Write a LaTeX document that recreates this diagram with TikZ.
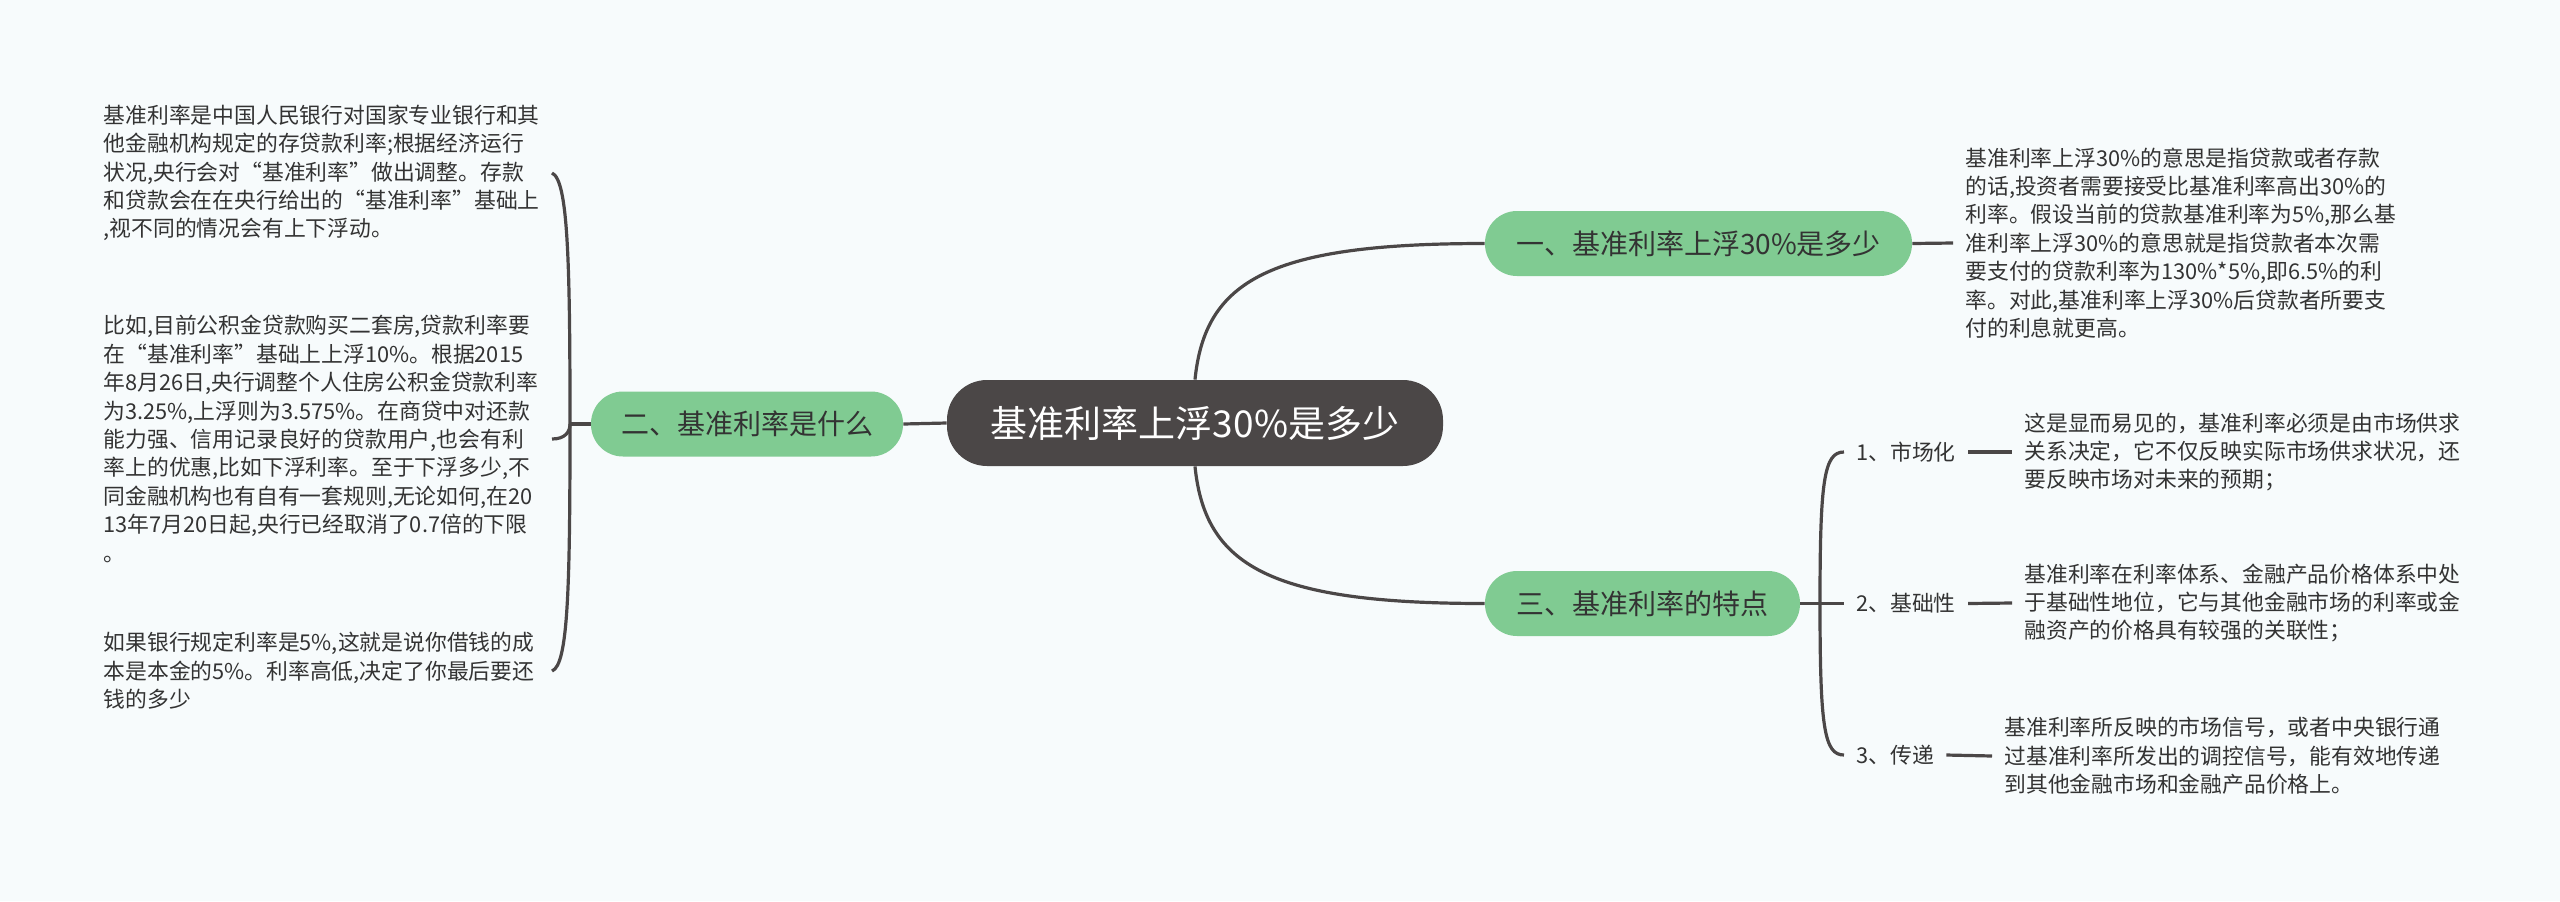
\documentclass[tikz,border=0pt]{standalone}
\usepackage{fontspec}
\setmainfont{Noto Sans CJK SC}
\definecolor{bg}{HTML}{F7FBFC}
\definecolor{gr}{HTML}{80CB92}
\definecolor{rootc}{HTML}{4B4747}
\definecolor{linec}{HTML}{4B4747}
\definecolor{txt}{HTML}{333333}
\begin{document}
\begin{tikzpicture}[x=0.5pt,y=-0.5pt,
 conn/.style={draw=linec,line width=1.6pt},
 rootbox/.style={fill=rootc,text=white,rounded corners=20pt,minimum width=248pt,minimum height=43pt,font=\fontsize{18.5pt}{22pt}\selectfont,inner sep=0pt},
 topic/.style={fill=gr,text=txt,rounded corners=16pt,minimum height=32.5pt,font=\fontsize{14pt}{17pt}\selectfont,inner sep=0pt},
 bodyl/.style={text=txt,align=left,text width=218pt,font=\fontsize{10.9pt}{14.2pt}\selectfont,inner xsep=6pt,inner ysep=0pt,anchor=east},
 bodyr/.style={text=txt,align=left,font=\fontsize{10.9pt}{14.2pt}\selectfont,inner xsep=6pt,inner ysep=0pt,anchor=west},
 sublab/.style={text=txt,font=\fontsize{10.9pt}{14pt}\selectfont,inner xsep=6pt,inner ysep=0pt,anchor=west}]

\fill[bg] (0,0) rectangle (2560,901);
\useasboundingbox (0,0) rectangle (2560,901);

% main nodes
\node[rootbox] (root) at (1195,423) {基准利率上浮30\%是多少};
\node[topic,minimum width=213.5pt] (n1) at (1698.5,243.5) {一、基准利率上浮30\%是多少};
\node[topic,minimum width=156pt] (n2) at (747,424) {二、基准利率是什么};
\node[topic,minimum width=157.5pt] (n3) at (1642.5,603.5) {三、基准利率的特点};

% left texts
\node[bodyl] (t1) at (552,173) {基准利率是中国人民银行对国家专业银行和其\\他金融机构规定的存贷款利率;根据经济运行\\状况,央行会对“基准利率”做出调整。存款\\和贷款会在在央行给出的“基准利率”基础上\\,视不同的情况会有上下浮动。};
\node[bodyl] (t2) at (552,439) {比如,目前公积金贷款购买二套房,贷款利率要\\在“基准利率”基础上上浮10\%。根据2015\\年8月26日,央行调整个人住房公积金贷款利率\\为3.25\%,上浮则为3.575\%。在商贷中对还款\\能力强、信用记录良好的贷款用户,也会有利\\率上的优惠,比如下浮利率。至于下浮多少,不\\同金融机构也有自有一套规则,无论如何,在20\\13年7月20日起,央行已经取消了0.7倍的下限\\。};
\node[bodyl] (t3) at (552,671) {如果银行规定利率是5\%,这就是说你借钱的成\\本是本金的5\%。利率高低,决定了你最后要还\\钱的多少};

% right texts
\node[bodyr] (r1) at (1953,243) {基准利率上浮30\%的意思是指贷款或者存款\\的话,投资者需要接受比基准利率高出30\%的\\利率。假设当前的贷款基准利率为5\%,那么基\\准利率上浮30\%的意思就是指贷款者本次需\\要支付的贷款利率为130\%*5\%,即6.5\%的利\\率。对此,基准利率上浮30\%后贷款者所要支\\付的利息就更高。};

\node[sublab] (l1) at (1844,452) {1、市场化};
\node[sublab] (l2) at (1844,603.5) {2、基础性};
\node[sublab] (l3) at (1844,755) {3、传递};

\node[bodyr] (s1) at (2012,452) {这是显而易见的，基准利率必须是由市场供求\\关系决定，它不仅反映实际市场供求状况，还\\要反映市场对未来的预期；};
\node[bodyr] (s2) at (2012,603) {基准利率在利率体系、金融产品价格体系中处\\于基础性地位，它与其他金融市场的利率或金\\融资产的价格具有较强的关联性；};
\node[bodyr] (s3) at (1992,756) {基准利率所反映的市场信号，或者中央银行通\\过基准利率所发出的调控信号，能有效地传递\\到其他金融市场和金融产品价格上。};

% connectors
\draw[conn] (root.north) .. controls (1205,280) and (1270,243.5) .. (n1.west);
\draw[conn] (root.south) .. controls (1205,566) and (1270,603.5) .. (n3.west);
\draw[conn] (root.west) -- (n2.east);
\draw[conn] (n1.east) -- (r1.west);

\coordinate (j2) at (570,424);
\draw[conn] (n2.west) -- (j2);
\draw[conn] (j2) .. controls (570,260) and (568,180) .. (t1.east);
\draw[conn] (j2) .. controls (570,432) and (565,439) .. (t2.east);
\draw[conn] (j2) .. controls (570,590) and (568,665) .. (t3.east);

\coordinate (j3) at (1820,603.5);
\draw[conn] (n3.east) -- (l2.west);
\draw[conn] (j3) .. controls (1820,480) and (1824,452) .. (l1.west);
\draw[conn] (j3) .. controls (1820,727) and (1824,755) .. (l3.west);
\draw[conn] (l1.east) -- (s1.west);
\draw[conn] (l2.east) -- (s2.west);
\draw[conn] (l3.east) -- (s3.west);
\end{tikzpicture}
\end{document}
